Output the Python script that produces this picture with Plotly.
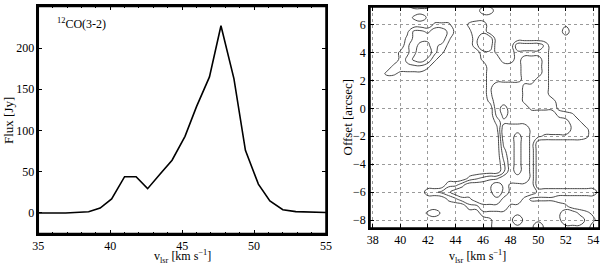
import plotly.graph_objects as go

# ---- Left panel: 12CO(3-2) spectrum ----
velocity = [35.0, 36.9, 38.5, 39.3, 40.1, 41.0, 41.8, 42.6, 43.5, 44.3, 45.2,
            46.0, 46.9, 47.7, 48.6, 49.4, 50.3, 51.1, 52.0, 52.9, 55.0]
flux = [0.0, 0.0, 1.5, 6.0, 17.0, 44.0, 44.0, 29.5, 48.0, 64.0, 93.0,
        129.0, 165.0, 227.0, 163.0, 76.0, 35.0, 14.5, 4.0, 1.6, 0.5]

# ---- Right panel: position-velocity diagram (intensity,
#      contour levels at 1.5, 3.5, 5.5, 7.5) ----
pv_velocity = [37.5, 38.0, 38.5, 39.0, 39.5, 40.0, 40.5, 41.0, 41.5, 42.0, 42.5,
               43.0, 43.5, 44.0, 44.5, 45.0, 45.5, 46.0, 46.5, 47.0, 47.5, 48.0,
               48.5, 49.0, 49.5, 50.0, 50.5, 51.0, 51.5, 52.0, 52.5, 53.0, 53.5,
               54.0, 54.5]
pv_offset = [7.5, 7.0, 6.5, 6.0, 5.5, 5.0, 4.5, 4.0, 3.5, 3.0, 2.5, 2.0, 1.5,
             1.0, 0.5, 0.0, -0.5, -1.0, -1.5, -2.0, -2.5, -3.0, -3.5, -4.0,
             -4.5, -5.0, -5.5, -6.0, -6.5, -7.0, -7.5, -8.0, -8.5, -9.0]
pv_rows = [
    "00000025541000000000000000000000000",
    "00000000000000000330000000000000000",
    "00000002310000000000000000000000000",
    "00000000002220023300000000000100000",
    "00000014435531013300000000000300000",
    "00000024555520003550000000000000000",
    "00000035664310003550005555300000000",
    "00000235774200000331003333300000000",
    "00000246752000000233003444300000000",
    "00002333320000000033333454300000000",
    "00022111100000000033333454300000000",
    "00000000000000000033333443300000000",
    "00000000000000000035555333300000000",
    "00000000000000000035555333300000000",
    "00000000000000000025555333330000000",
    "00000000000000000005655533331000000",
    "00000000000000000004655555553320000",
    "00000000000000000002555555555432000",
    "00000000000000000001777755555533200",
    "00000000000000000000774754333333200",
    "00000000000000000000674750000000000",
    "00000000000000000000574750000000000",
    "00000000000000000000474750000000000",
    "00000000000000000000374750000000000",
    "00000000000000000000374750000000000",
    "00000000000000023455777750000000000",
    "00000000000033577779755550000000000",
    "00000000033457777779755553333333330",
    "00000000000023557777555311110000000",
    "00000000000000033555533333333200000",
    "00000000023100000333333333333553210",
    "00000000000000000013335333333555320",
    "00000000000000000013333335333333300",
    "00000000000000000003333333333333300",
]
pv_intensity = [[int(c) for c in row] for row in pv_rows]

left_xticks = [35, 40, 45, 50, 55]
left_yticks = [0, 50, 100, 150, 200, 250]
left_ytext = ["0", "50", "100", "150", "200", ""]   # top label drawn by a text trace
right_xticks = [38, 40, 42, 44, 46, 48, 50, 52, 54]
right_yticks = [-8, -6, -4, -2, 0, 2, 4, 6]

FONT = "Liberation Serif"

fig = go.Figure()
fig.add_trace(go.Scatter(x=velocity, y=flux, mode="lines",
                         line=dict(color="black", width=1.6),
                         xaxis="x", yaxis="y", hoverinfo="skip"))
# top tick label of the flux axis, drawn just left of the axis (nudged to stay inside the page)
fig.add_trace(go.Scatter(x=[left_xticks[0] - 0.2], y=[left_yticks[-1] - 4], mode="text",
                         text=[str(left_yticks[-1])], textposition="middle left",
                         textfont=dict(family=FONT, size=12, color="black"),
                         cliponaxis=False, xaxis="x", yaxis="y", hoverinfo="skip"))
fig.add_trace(go.Contour(x=pv_velocity, y=pv_offset, z=pv_intensity,
                         contours=dict(coloring="lines", start=1.5, end=7.5, size=2),
                         line=dict(width=0.9, smoothing=1.3),
                         colorscale=[[0, "#333333"], [1, "#333333"]],
                         showscale=False, xaxis="x2", yaxis="y2", hoverinfo="skip"))

axis_common = dict(showline=True, linecolor="black", linewidth=1.5, mirror="ticks",
                   ticks="inside", ticklen=4, tickcolor="black", zeroline=False,
                   automargin=False, ticklabeloverflow="allow",
                   tickfont=dict(family=FONT, size=12, color="black"))

fig.update_layout(
    width=600, height=265,
    margin=dict(l=0, r=0, t=0, b=0),
    paper_bgcolor="white", plot_bgcolor="white",
    showlegend=False,
    font=dict(family=FONT, size=12, color="black"),
    xaxis=dict(domain=[0.0638, 0.5433], range=[35, 55], tickvals=left_xticks,
               showgrid=False, anchor="y",
               minor=dict(ticks="inside", ticklen=2, dtick=1, tickcolor="black"),
               **axis_common),
    yaxis=dict(domain=[0.1185, 0.9755], range=[-25, 250.4], tickvals=left_yticks,
               ticktext=left_ytext, showgrid=False, anchor="x", **axis_common),
    xaxis2=dict(domain=[0.6167, 0.9983], range=[37.8, 54.41], tickvals=right_xticks,
                showgrid=True, gridcolor="#9a9a9a", griddash="dot", gridwidth=1,
                anchor="y2", **axis_common),
    yaxis2=dict(domain=[0.1396, 0.9736], range=[-8.57, 7.26], tickvals=right_yticks,
                showgrid=True, gridcolor="#9a9a9a", griddash="dot", gridwidth=1,
                anchor="x2", **axis_common),
    shapes=[
        dict(type="rect", xref="x domain", yref="y domain", x0=0, x1=1, y0=0, y1=1,
             line=dict(color="black", width=1.5), layer="above"),
        dict(type="rect", xref="x2 domain", yref="y2 domain", x0=0, x1=1, y0=0, y1=1,
             line=dict(color="black", width=1.5), layer="above"),
    ],
    annotations=[
        dict(text="<sup>12</sup>CO(3-2)", x=36.16, y=230, xref="x", yref="y",
             xanchor="left", yanchor="middle", showarrow=False,
             font=dict(family=FONT, size=12)),
        dict(text="Flux [Jy]", x=8 / 600, y=1 - 121 / 265, xref="paper", yref="paper",
             xanchor="center", yanchor="middle",
             textangle=-90, showarrow=False, font=dict(family=FONT, size=13)),
        dict(text="v<sub>lsr</sub> [km s<sup>−1</sup>]", x=182 / 600, y=1 - 256 / 265,
             xanchor="center", yanchor="middle",
             xref="paper", yref="paper", showarrow=False, font=dict(family=FONT, size=12)),
        dict(text="Offset [arcsec]", x=347 / 600, y=1 - 117.5 / 265, xref="paper",
             xanchor="center", yanchor="middle",
             yref="paper", textangle=-90, showarrow=False, font=dict(family=FONT, size=13)),
        dict(text="v<sub>lsr</sub> [km s<sup>−1</sup>]", x=477 / 600, y=1 - 256 / 265,
             xanchor="center", yanchor="middle",
             xref="paper", yref="paper", showarrow=False, font=dict(family=FONT, size=12)),
    ],
)

fig.write_html("out.html", config={"displayModeBar": False},
               post_script="document.body.style.margin='0px';document.body.style.padding='0px';")
